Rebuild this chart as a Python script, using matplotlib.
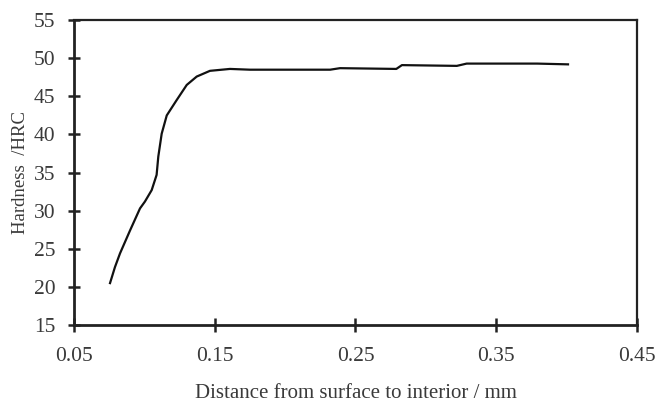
import numpy as np
import matplotlib
matplotlib.use('Agg')
import matplotlib.pyplot as plt

# hardness profile
distance = [0.0756, 0.0791, 0.0827, 0.0898, 0.0969, 0.1004, 0.1052, 0.1087,
            0.1099, 0.1123, 0.1159, 0.1229, 0.1301, 0.1372, 0.1466, 0.1608,
            0.175, 0.232, 0.239, 0.279, 0.283, 0.322, 0.329, 0.379, 0.401]
hardness = [20.5, 22.6, 24.4, 27.4, 30.3, 31.2, 32.7, 34.7,
            37.1, 40.1, 42.5, 44.5, 46.5, 47.6, 48.35, 48.6,
            48.5, 48.5, 48.7, 48.6, 49.1, 49.0, 49.3, 49.3, 49.2]

xticks = [0.05, 0.15, 0.25, 0.35, 0.45]
yticks = [15, 20, 25, 30, 35, 40, 45, 50, 55]

plt.rcParams['font.family'] = ['Liberation Serif', 'DejaVu Serif']
txt = '#3a3a3a'

fig = plt.figure(figsize=(6.56, 4.03), dpi=100)
ax = fig.add_axes([0.1128, 0.1935, 0.8582, 0.7565])

ax.plot(distance, hardness, color='#111111', linewidth=1.6)

ax.set_xlim(0.05, 0.45)
ax.set_ylim(15, 55)
ax.set_xticks(xticks)
ax.set_xticklabels(['%.2f' % t for t in xticks])
ax.set_yticks(yticks)

for s in ax.spines.values():
    s.set_linewidth(2.0)
    s.set_color('#222222')
ax.spines['top'].set_linewidth(1.6)
ax.spines['right'].set_linewidth(1.6)

ax.tick_params(axis='both', direction='inout', width=1.8,
               colors='#222222', labelcolor=txt, labelsize=15.5)
ax.tick_params(axis='x', length=10, pad=11)
ax.tick_params(axis='y', length=9, pad=9)

ax.set_xlabel('Distance from surface to interior / mm', fontsize=15, color=txt, labelpad=13)
ax.set_ylabel('Hardness  /HRC', fontsize=13.5, color=txt, labelpad=3)

fig.savefig('out.png', dpi=100)
